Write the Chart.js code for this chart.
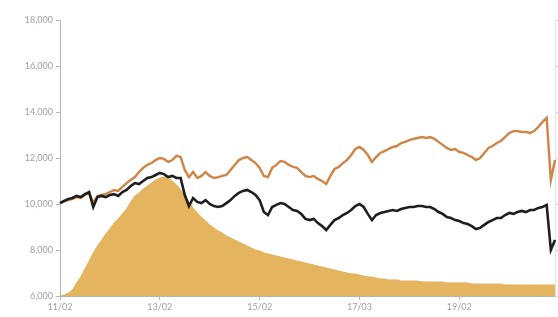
<!DOCTYPE html>
<html>
<head>
<meta charset="utf-8">
<script src="https://cdn.jsdelivr.net/npm/chart.js@4/dist/chart.umd.min.js"></script>
<style>
  html, body { margin: 0; padding: 0; background: #fff; }
  #wrap { width: 558px; height: 317px; }
</style>
</head>
<body>
<div id="wrap"><canvas id="perf" width="558" height="317"></canvas></div>
<script>
// one value per month, first point is the 11/02 tick
const tickLabels = ['11/02', '13/02', '15/02', '17/03', '19/02'];

const darkLine = [
  10040, 10130, 10220, 10260, 10350, 10300, 10430, 10520, 9870, 10300,
  10350, 10300, 10390, 10430, 10350, 10520, 10610, 10780, 10910, 10870,
  11000, 11130, 11170, 11260, 11350, 11300, 11170, 11220, 11130, 11130,
  10390, 9910, 10260, 10090, 10040, 10170, 10000, 9910, 9870, 9910,
  10040, 10170, 10350, 10480, 10570, 10610, 10520, 10390, 10170, 9650,
  9520, 9870, 9960, 10040, 10000, 9870, 9740, 9700, 9570, 9350,
  9300, 9350, 9170, 9040, 8870, 9090, 9300, 9390, 9520, 9610,
  9740, 9910, 10000, 9870, 9570, 9300, 9520, 9610, 9650, 9700,
  9740, 9700, 9780, 9830, 9870, 9870, 9910, 9910, 9870, 9870,
  9780, 9650, 9570, 9430, 9390, 9300, 9260, 9170, 9130, 9040,
  8910, 8960, 9090, 9220, 9300, 9390, 9390, 9520, 9610, 9570,
  9650, 9700, 9650, 9740, 9740, 9830, 9870, 9960, 8000, 8430
];

const orangeLine = [
  10040, 10130, 10170, 10220, 10300, 10260, 10390, 10480, 10040, 10350,
  10390, 10430, 10520, 10610, 10570, 10740, 10910, 11040, 11170, 11390,
  11570, 11700, 11780, 11910, 12000, 11960, 11830, 11910, 12090, 12040,
  11480, 11170, 11390, 11130, 11220, 11390, 11220, 11130, 11170, 11220,
  11260, 11480, 11700, 11910, 12000, 12040, 11910, 11780, 11570, 11220,
  11170, 11570, 11700, 11870, 11830, 11700, 11610, 11570, 11390, 11220,
  11170, 11220, 11090, 11000, 10870, 11220, 11520, 11610, 11780, 11910,
  12130, 12390, 12480, 12350, 12130, 11830, 12040, 12220, 12300, 12390,
  12480, 12520, 12650, 12700, 12780, 12830, 12870, 12910, 12870, 12910,
  12830, 12700, 12570, 12440, 12350, 12390, 12260, 12220, 12130, 12040,
  11910, 12000, 12220, 12440, 12520, 12650, 12740, 12910, 13090, 13170,
  13170, 13130, 13130, 13090, 13170, 13350, 13570, 13740, 11040, 11910
];

const goldArea = [
  6000, 6040, 6130, 6260, 6570, 6830, 7170, 7520, 7870, 8170,
  8430, 8700, 8910, 9170, 9350, 9570, 9780, 10090, 10350, 10480,
  10650, 10780, 10910, 11040, 11130, 11170, 11130, 11000, 10830, 10610,
  10350, 10090, 9830, 9610, 9430, 9260, 9090, 8960, 8830, 8740,
  8610, 8520, 8430, 8350, 8260, 8170, 8090, 8000, 7960, 7870,
  7830, 7780, 7740, 7700, 7650, 7610, 7570, 7520, 7480, 7430,
  7390, 7350, 7300, 7260, 7220, 7170, 7130, 7090, 7040, 7000,
  6960, 6960, 6910, 6870, 6830, 6830, 6780, 6740, 6740, 6700,
  6700, 6700, 6650, 6650, 6650, 6650, 6650, 6610, 6610, 6610,
  6610, 6610, 6610, 6570, 6570, 6570, 6570, 6570, 6570, 6520,
  6520, 6520, 6520, 6520, 6520, 6520, 6520, 6480, 6480, 6480,
  6480, 6480, 6480, 6480, 6480, 6480, 6480, 6480, 6480, 6480
];

const labels = darkLine.map((v, i) => (i % 24 === 0 ? tickLabels[i / 24] : ''));

const tickFont = { family: 'Lato', size: 9 };
const axisGrey = '#b5b5b5';

new Chart(document.getElementById('perf'), {
  type: 'line',
  data: {
    labels: labels,
    datasets: [
      {
        data: darkLine,
        borderColor: '#1e1e1e',
        borderWidth: 2.6,
        pointRadius: 0,
        fill: false,
        order: 1
      },
      {
        data: orangeLine,
        borderColor: '#cf8448',
        borderWidth: 2.4,
        pointRadius: 0,
        fill: false,
        order: 2
      },
      {
        data: goldArea,
        borderColor: '#e2b25e',
        borderWidth: 1,
        backgroundColor: '#e4b45f',
        pointRadius: 0,
        fill: 'start',
        order: 3
      }
    ]
  },
  options: {
    responsive: false,
    animation: false,
    layout: { padding: { top: 20, right: 0, left: 0, bottom: 0 } },
    plugins: {
      legend: { display: false },
      tooltip: { enabled: false }
    },
    scales: {
      x: {
        offset: false,
        border: { color: axisGrey },
        grid: {
          drawOnChartArea: false,
          tickLength: 4,
          tickColor: ctx => (labels[ctx.index] ? axisGrey : 'transparent')
        },
        ticks: {
          autoSkip: false,
          maxRotation: 0,
          padding: 2,
          color: '#a0a0a0',
          font: tickFont
        },
        afterFit: s => { s.height = 21; }
      },
      y: {
        min: 6000,
        max: 18000,
        border: { color: axisGrey },
        grid: { drawOnChartArea: false, tickLength: 4, tickColor: axisGrey },
        ticks: {
          stepSize: 2000,
          padding: 3,
          color: '#a0a0a0',
          font: tickFont,
          callback: v => v.toLocaleString('en-US')
        },
        afterFit: s => { s.width = 60; }
      },
      y2: {
        position: 'right',
        min: 6000,
        max: 18000,
        border: { color: '#e2e2e2' },
        grid: { drawOnChartArea: false, tickLength: 3, tickColor: '#d0d0d0' },
        ticks: { display: false, stepSize: 2000 },
        afterFit: s => { s.width = 3; }
      }
    }
  }
});
</script>
</body>
</html>
